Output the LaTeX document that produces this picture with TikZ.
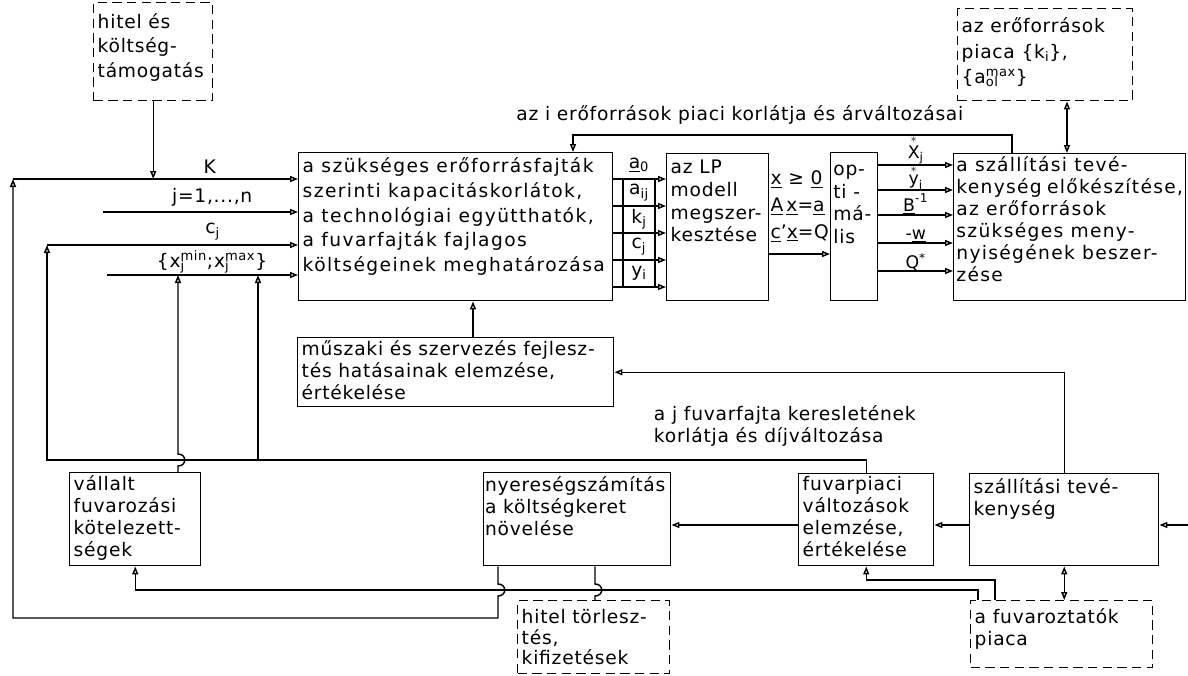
\documentclass[tikz,border=0pt]{standalone}
\usepackage{fontspec}
\usepackage{amsmath}
\setmainfont{DejaVu Sans}[LetterSpace=4]
\usetikzlibrary{arrows.meta,positioning}
\newcommand{\bx}[3]{\parbox[t][#2][t]{#1}{#3}}
\newcommand{\subsup}[2]{\rlap{\textsubscript{#1}}\textsuperscript{#2}}
\newcommand{\topgap}[1]{\rule{0pt}{#1}}

\begin{document}
\begin{tikzpicture}[
  x=0.75pt, y=-0.75pt, line width=1.1pt,
  font=\fontsize{14}{16.5}\selectfont,
  blk/.style={draw, anchor=north west, inner xsep=3pt, inner ysep=2pt},
  mkt/.style={blk, dash pattern=on 7pt off 4pt},
  cell/.style={draw, minimum width=24pt, minimum height=20.25pt, inner sep=0pt, outer sep=0pt},
  lbl/.style={above, inner sep=0pt, font=\fontsize{13}{15}\selectfont},
  arr/.style={-{Triangle[open,length=6pt,width=4.5pt]}},
  dbl/.style={{Triangle[open,length=6pt,width=4.5pt]}-{Triangle[open,length=6pt,width=4.5pt]}}
]
\useasboundingbox (0,0) rectangle (1188,675);

% blocks
\node[mkt] (hitel) at (93,2) {\bx{83.25pt}{69.5pt}{\fontsize{14}{18.5}\selectfont\topgap{17pt}hitel és\\költség-\\támogatás}};
\node[mkt] (erp) at (957,8) {\bx{125.25pt}{65pt}{\fontsize{14}{19}\selectfont\topgap{16pt}az erőforrások\\piaca \{k\textsubscript{i}\},\\\{a\subsup{ol}{max}\}}};
\node[blk] (main) at (298,152) {\bx{229.5pt}{107pt}{\fontsize{14}{18.5}\selectfont\addfontfeature{LetterSpace=7.5}\topgap{13pt}a szükséges erőforrásfajták\\szerinti kapacitáskorlátok,\\a technológiai együtthatók,\\a fuvarfajták fajlagos\\költségeinek meghatározása}};
\node[blk] (lp) at (666,153) {\bx{70.5pt}{106.25pt}{\fontsize{14}{17}\selectfont\topgap{13pt}az LP\\modell\\megszer-\\kesztése}};
\node[blk, inner xsep=2pt] (opt) at (830,152) {\bx{31.25pt}{107pt}{\fontsize{14}{17}\selectfont\topgap{15pt}op-\\ti -\\má-\\lis}};
\node[blk, inner xsep=2pt] (elo) at (953,153) {\bx{170pt}{106.25pt}{\addfontfeature{LetterSpace=7}a szállítási tevé-\\kenység előkészítése,\\az erőforrások\\szükséges meny-\\nyiségének beszer-\\zése}};
\node[blk] (mus) at (297,337) {\bx{231pt}{47.75pt}{\topgap{11pt}műszaki és szervezés fejlesz-\\tés hatásainak elemzése,\\értékelése}};
\node[blk] (vall) at (69,472) {\bx{92.25pt}{65.75pt}{vállalt\\fuvarozási\\kötelezett-\\ségek}};
\node[blk, inner xsep=1pt] (nyer) at (483,472) {\bx{138.25pt}{65.75pt}{\topgap{12pt}nyereségszámítás\\a költségkeret\\növelése}};
\node[blk] (fuv) at (798,473) {\bx{95.25pt}{65pt}{fuvarpiaci\\változások\\elemzése,\\értékelése}};
\node[blk] (szt) at (969,473) {\bx{135.75pt}{65pt}{\topgap{13pt}szállítási tevé-\\kenység}};
\node[mkt] (tor) at (517,600) {\bx{108pt}{50.75pt}{\fontsize{14}{15.5}\selectfont\topgap{15pt}hitel törlesz-\\tés,\\kifizetések}};
\node[mkt] (fpi) at (970,600) {\bx{130.5pt}{46.25pt}{\topgap{15pt}a fuvaroztatók\\piaca}};

% parameter cells
\node[cell] (c1) at (639,192.5) {a\textsubscript{ij}};
\node[cell] (c2) at (639,219.5) {k\textsubscript{j}};
\node[cell] (c3) at (639,246.5) {c\textsubscript{j}};
\node[cell] (c4) at (639,273.5) {y\textsubscript{i}};
\node[above=1pt of c1] (a0) {\underline{a}\textsubscript{0}};

\foreach \c in {c1,c2,c3,c4}
  \draw[arr] (main.east |- \c.north) -- (lp.west |- \c.north);
\draw[arr] (main.east |- c4.south) -- (lp.west |- c4.south);

% inputs of the main block
\coordinate (kin) at (13,179);
\coordinate (jin) at (103,212);
\coordinate (cin) at (47,245);
\coordinate (xin) at (107,275);
\coordinate (tap) at (258,460);
\coordinate (rin) at (1188,525);
\draw[arr] (kin) -- node[above, pos=.69]{K} (main.west |- kin);
\draw[arr] (jin) -- node[above, pos=.56]{j=1,...,n} (main.west |- jin);
\draw[arr] (cin) -- node[above, pos=.66]{c\textsubscript{j}} (main.west |- cin);
\draw[arr] (xin) -- node[above, pos=.55, inner sep=0.5pt]{\{x\subsup{j}{min};x\subsup{j}{max}\}} (main.west |- xin);
\draw[arr] (hitel) -- (hitel |- kin);

% LP model and optimisation
\draw[arr] (lp.east |- 0,254) -- node[above=5pt, align=left, font=\fontsize{14}{20}\selectfont]{\underline{x} ≥ \underline{0}\\\underline{A}\,\underline{x}=\underline{a}\\\underline{c}'\underline{x}=Q} (opt.west |- 0,254);
\draw[arr] (opt.east |- 0,165) -- node[lbl]{$\overset{*}{\text{X}}_{\text{j}}$} (elo.west |- 0,165);
\draw[arr] (opt.east |- 0,190) -- node[lbl]{$\overset{*}{\text{y}}_{\text{i}}$} (elo.west |- 0,190);
\draw[arr] (opt.east |- 0,215) -- node[lbl]{$\underline{\text{B}}^{\text{-1}}$} (elo.west |- 0,215);
\draw[arr] (opt.east |- 0,243) -- node[lbl]{-\underline{w}} (elo.west |- 0,243);
\draw[arr] (opt.east |- 0,271) -- node[lbl]{Q\textsuperscript{*}} (elo.west |- 0,271);

% resource market feedback
\draw[dbl] (erp.south -| 1067,0) -- (elo.north -| 1067,0);
\draw[arr] (elo.north -| 1012,0) |- node[above=4pt, pos=.81]{az i erőforrások piaci korlátja és árváltozásai} (573,135) -- (main.north -| 573,0);
\draw[arr] (mus.north -| 473,0) -- (main.south -| 473,0);

% transport activity
\draw[arr] (rin) -- (szt.east |- rin);
\draw[arr] (szt.west |- rin) -- (fuv.east |- rin);
\draw[arr] (fuv.west |- rin) -- (nyer.east |- rin);
\draw[dbl] (szt.south) -- (szt.south |- fpi.north);
\draw[arr] (szt.north) |- (mus.east);
\draw[arr] (fuv.north) |- node[pos=.63, anchor=south west, align=left, yshift=10pt, inner sep=0pt]{a j fuvarfajta keresletének\\korlátja és díjváltozása} (cin |- tap) -- (cin);
\draw[arr] (tap) -- (tap |- xin);
\draw[arr] (vall.north -| 178,0) -- (178,466) .. controls +(9,0) and +(9,0) .. (178,454) -- (xin -| 178,0);

% profit and markets
\draw[arr] (nyer.south -| 498,0) -- (498,584) .. controls +(9,0) and +(9,0) .. (498,596) -- (498,618) -| (kin);
\draw (nyer.south -| 595,0) -- (595,584) .. controls +(9,0) and +(9,0) .. (595,596) -- (tor.north -| 595,0);
\draw[arr] (fpi.north -| 978,0) -- (978,590) -| (vall.south);
\draw[arr] (fpi.north -| 995,0) -- (995,580) -| (fuv.south);
\end{tikzpicture}
\end{document}
